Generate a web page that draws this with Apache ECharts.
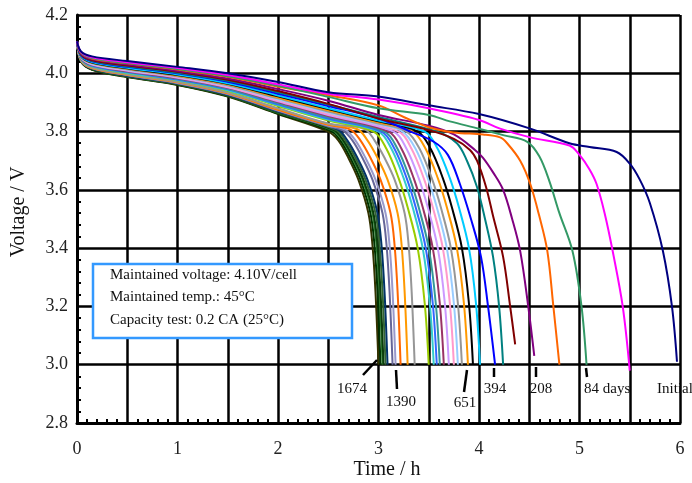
<!DOCTYPE html>
<html><head><meta charset="utf-8">
<script src="https://cdn.jsdelivr.net/npm/echarts@6/dist/echarts.min.js"></script>
<style>html,body{margin:0;padding:0;background:#fff}#c{width:692px;height:483px}</style>
</head><body><div id="c"></div>
<script>
// ---- data: discharge curves [time h, voltage V] ----
const curve01 = [[0,4.11],[0.04,4.040],[0.15,4.012],[0.5,3.987],[1,3.960],[1.5,3.920],[2,3.860],[2.5,3.800],[2.6,3.770],[2.7,3.710],[2.8,3.635],[2.9,3.520],[2.94,3.410],[2.97,3.250],[3.0,3.0]];
const curve02 = [[0,4.11],[0.04,4.041],[0.15,4.013],[0.5,3.988],[1,3.961],[1.5,3.922],[2,3.862],[2.52,3.803],[2.62,3.77],[2.72,3.71],[2.82,3.635],[2.92,3.52],[2.96,3.41],[2.99,3.25],[3.02,3.0]];
const curve03 = [[0,4.11],[0.04,4.041],[0.15,4.014],[0.5,3.989],[1,3.962],[1.5,3.923],[2,3.864],[2.54,3.805],[2.64,3.77],[2.74,3.71],[2.84,3.635],[2.94,3.52],[2.98,3.41],[3.01,3.25],[3.04,3.0]];
const curve04 = [[0,4.11],[0.04,4.042],[0.15,4.014],[0.5,3.990],[1,3.963],[1.5,3.924],[2,3.866],[2.55,3.806],[2.65,3.77],[2.75,3.71],[2.85,3.635],[2.95,3.52],[2.99,3.41],[3.02,3.25],[3.05,3.0]];
const curve05 = [[0,4.11],[0.04,4.042],[0.15,4.015],[0.5,3.990],[1,3.964],[1.5,3.925],[2,3.867],[2.57,3.807],[2.67,3.77],[2.77,3.71],[2.87,3.635],[2.97,3.52],[3.01,3.41],[3.04,3.25],[3.07,3.0]];
const curve06 = [[0,4.11],[0.04,4.043],[0.15,4.016],[0.5,3.991],[1,3.965],[1.5,3.926],[2,3.869],[2.59,3.808],[2.69,3.77],[2.79,3.71],[2.89,3.635],[2.99,3.52],[3.03,3.41],[3.06,3.25],[3.09,3.0]];
const curve07 = [[0,4.11],[0.04,4.044],[0.15,4.017],[0.5,3.993],[1,3.966],[1.5,3.928],[2,3.871],[2.5,3.818],[2.64,3.805],[2.74,3.77],[2.84,3.71],[2.94,3.635],[3.04,3.52],[3.08,3.41],[3.11,3.25],[3.14,3.0]];
const curve08 = [[0,4.11],[0.04,4.044],[0.15,4.018],[0.5,3.994],[1,3.967],[1.5,3.930],[2,3.873],[2.5,3.821],[2.67,3.806],[2.77,3.77],[2.87,3.71],[2.97,3.635],[3.07,3.52],[3.11,3.41],[3.14,3.25],[3.17,3.0]];
const curve09 = [[0,4.11],[0.04,4.045],[0.15,4.018],[0.5,3.995],[1,3.969],[1.5,3.931],[2,3.875],[2.5,3.823],[2.72,3.807],[2.82,3.77],[2.92,3.71],[3.02,3.635],[3.12,3.52],[3.16,3.41],[3.19,3.25],[3.22,3.0]];
const curve10 = [[0,4.11],[0.04,4.046],[0.15,4.019],[0.5,3.996],[1,3.970],[1.5,3.933],[2,3.878],[2.5,3.826],[2.79,3.808],[2.89,3.77],[2.99,3.71],[3.09,3.635],[3.19,3.52],[3.23,3.41],[3.26,3.25],[3.29,3.0]];
const curve11 = [[0,4.11],[0.04,4.046],[0.15,4.020],[0.5,3.997],[1,3.971],[1.5,3.934],[2,3.880],[2.5,3.828],[2.86,3.809],[2.96,3.77],[3.06,3.71],[3.16,3.635],[3.26,3.52],[3.30,3.41],[3.33,3.25],[3.36,3.0]];
const curve12 = [[0,4.11],[0.04,4.049],[0.15,4.024],[0.5,4.001],[1,3.976],[1.5,3.940],[2,3.888],[2.5,3.838],[2.95,3.80],[3.08,3.74],[3.20,3.64],[3.29,3.54],[3.39,3.40],[3.46,3.21],[3.50,3.0]];
const curve13 = [[0,4.11],[0.04,4.050],[0.15,4.025],[0.5,4.002],[1,3.977],[1.5,3.942],[2,3.891],[2.5,3.841],[3.00,3.80],[3.13,3.74],[3.25,3.64],[3.34,3.54],[3.44,3.40],[3.51,3.21],[3.55,3.0]];
const curve14 = [[0,4.11],[0.04,4.051],[0.15,4.026],[0.5,4.004],[1,3.979],[1.5,3.945],[2,3.894],[2.5,3.845],[3.03,3.80],[3.16,3.74],[3.28,3.64],[3.37,3.54],[3.47,3.40],[3.54,3.21],[3.58,3.0]];
const curve15 = [[0,4.11],[0.04,4.052],[0.15,4.028],[0.5,4.006],[1,3.981],[1.5,3.947],[2,3.897],[2.5,3.849],[3.06,3.80],[3.19,3.74],[3.31,3.64],[3.40,3.54],[3.50,3.40],[3.57,3.21],[3.61,3.0]];
const curve16 = [[0,4.11],[0.04,4.053],[0.15,4.029],[0.5,4.007],[1,3.983],[1.5,3.950],[2,3.901],[2.5,3.853],[3.10,3.80],[3.23,3.74],[3.35,3.64],[3.44,3.54],[3.54,3.40],[3.61,3.21],[3.65,3.0]];
const curve17 = [[0,4.11],[0.04,4.054],[0.15,4.030],[0.5,4.009],[1,3.985],[1.5,3.952],[2,3.904],[2.5,3.857],[3.15,3.80],[3.28,3.74],[3.40,3.64],[3.49,3.54],[3.59,3.40],[3.66,3.21],[3.70,3.0]];
const curve18 = [[0,4.11],[0.04,4.055],[0.15,4.032],[0.5,4.011],[1,3.987],[1.5,3.954],[2,3.907],[2.5,3.861],[3.20,3.80],[3.33,3.74],[3.45,3.64],[3.54,3.54],[3.64,3.40],[3.71,3.21],[3.75,3.0]];
const curve19 = [[0,4.11],[0.04,4.056],[0.15,4.033],[0.5,4.012],[1,3.989],[1.5,3.957],[2,3.911],[2.5,3.865],[3.0,3.825],[3.24,3.80],[3.37,3.74],[3.49,3.64],[3.58,3.54],[3.68,3.40],[3.75,3.21],[3.79,3.0]];
const curve20 = [[0,4.11],[0.04,4.057],[0.15,4.035],[0.5,4.014],[1,3.990],[1.5,3.959],[2,3.914],[2.5,3.869],[3.0,3.828],[3.28,3.80],[3.41,3.74],[3.53,3.64],[3.62,3.54],[3.72,3.40],[3.79,3.21],[3.83,3.0]];
const curve21 = [[0,4.11],[0.04,4.058],[0.15,4.036],[0.5,4.016],[1,3.992],[1.5,3.962],[2,3.917],[2.5,3.873],[3.0,3.832],[3.34,3.80],[3.47,3.74],[3.59,3.64],[3.68,3.54],[3.78,3.40],[3.85,3.21],[3.89,3.0]];
const curve22 = [[0,4.11],[0.04,4.059],[0.15,4.037],[0.5,4.017],[1,3.994],[1.5,3.964],[2,3.921],[2.5,3.877],[3.0,3.835],[3.39,3.80],[3.52,3.74],[3.64,3.64],[3.73,3.54],[3.83,3.40],[3.90,3.21],[3.94,3.0]];
const curve23 = [[0,4.11],[0.04,4.060],[0.15,4.039],[0.5,4.019],[1,3.996],[1.5,3.966],[2,3.924],[2.5,3.880],[3.0,3.838],[3.46,3.80],[3.59,3.74],[3.71,3.64],[3.80,3.54],[3.90,3.40],[3.97,3.21],[4.01,3.0]];
const curve24 = [[0,4.11],[0.04,4.062],[0.15,4.041],[0.5,4.022],[1,4.000],[1.5,3.971],[2,3.930],[2.5,3.888],[3.0,3.845],[3.32,3.80],[3.55,3.765],[3.69,3.72],[3.81,3.62],[3.92,3.50],[4.02,3.37],[4.09,3.20],[4.16,3.0]];
const curve25 = [[0,4.11],[0.04,4.064],[0.15,4.043],[0.5,4.024],[1,4.002],[1.5,3.974],[2,3.935],[2.5,3.893],[3.0,3.850],[3.58,3.80],[3.78,3.76],[3.88,3.70],[3.98,3.61],[4.06,3.50],[4.14,3.37],[4.20,3.20],[4.24,3.0]];
const curve26 = [[0,4.11],[0.04,4.065],[0.15,4.045],[0.5,4.027],[1,4.005],[1.5,3.978],[2,3.939],[2.5,3.895],[3.0,3.845],[3.5,3.805],[3.75,3.775],[3.91,3.737],[3.98,3.70],[4.07,3.61],[4.14,3.51],[4.24,3.37],[4.31,3.20],[4.36,3.07]];
const curve27 = [[0,4.11],[0.04,4.067],[0.15,4.048],[0.5,4.030],[1,4.008],[1.5,3.982],[2,3.946],[2.5,3.906],[3.0,3.857],[3.5,3.82],[3.75,3.79],[3.96,3.737],[4.04,3.71],[4.14,3.66],[4.24,3.60],[4.33,3.50],[4.41,3.39],[4.49,3.20],[4.55,3.03]];
const curve28 = [[0,4.11],[0.04,4.070],[0.15,4.051],[0.5,4.034],[1,4.013],[1.5,3.988],[2,3.954],[2.5,3.925],[3.0,3.89],[3.25,3.85],[3.5,3.815],[3.75,3.797],[4.04,3.79],[4.21,3.78],[4.28,3.76],[4.41,3.70],[4.51,3.62],[4.60,3.51],[4.68,3.39],[4.74,3.20],[4.80,3.0]];
const curve29 = [[0,4.11],[0.04,4.071],[0.15,4.052],[0.5,4.035],[1,4.015],[1.5,3.990],[2,3.957],[2.5,3.919],[3.0,3.88],[3.5,3.857],[3.71,3.835],[4.0,3.81],[4.25,3.787],[4.48,3.765],[4.6,3.715],[4.7,3.63],[4.8,3.52],[4.93,3.39],[5.02,3.20],[5.07,3.0]];
const curve30 = [[0,4.11],[0.04,4.073],[0.15,4.055],[0.5,4.038],[1,4.018],[1.5,3.994],[2,3.962],[2.5,3.93],[3.0,3.91],[3.5,3.88],[4.0,3.84],[4.21,3.81],[4.51,3.78],[4.9,3.752],[5.0,3.72],[5.1,3.67],[5.17,3.62],[5.25,3.52],[5.33,3.39],[5.43,3.20],[5.5,2.98]];
const curve31 = [[0,4.11],[0.04,4.075],[0.15,4.058],[0.5,4.042],[1,4.022],[1.5,4.000],[2,3.97],[2.5,3.935],[3.0,3.92],[3.5,3.89],[4.0,3.86],[4.51,3.81],[4.9,3.76],[5.1,3.747],[5.37,3.73],[5.5,3.69],[5.6,3.635],[5.7,3.555],[5.83,3.39],[5.92,3.20],[5.97,3.01]];

const curveColors = ['#333300','#003300','#2e7d32','#0b3d0b','#336633','#003366','#666699','#9999cc','#ff6600','#ff9900','#969696',
  '#99cc00','#33cccc','#3366ff','#339999','#993366','#cc99ff','#ff99cc','#99ccff','#969696','#ff9900','#000000','#00ccff',
  '#0000ff','#008080','#800000','#800080','#ff6600','#339966','#ff00ff','#000080'];

const xTickLabels = ['0','1','2','3','4','5','6'];
const yTickLabels = ['2.8','3.0','3.2','3.4','3.6','3.8','4.0','4.2'];
const storageLabels = ['1674','1390','651','394','208','84 days','Initial'];
const conditionLines = ['Maintained voltage: 4.10V/cell','Maintained temp.: 45°C','Capacity test: 0.2 CA (25°C)'];

const curves = [curve01,curve02,curve03,curve04,curve05,curve06,curve07,curve08,curve09,curve10,curve11,curve12,curve13,curve14,curve15,
  curve16,curve17,curve18,curve19,curve20,curve21,curve22,curve23,curve24,curve25,curve26,curve27,curve28,curve29,curve30,curve31];

const SERIF = '"Liberation Serif","DejaVu Serif",serif';
const chart = echarts.init(document.getElementById('c'), null, {renderer:'canvas'});

const series = curves.map((d, i) => ({
  type: 'line', data: d, showSymbol: false, smooth: 0.35,
  lineStyle: { width: 2, color: curveColors[i] }, itemStyle: { color: curveColors[i] },
  animation: false, silent: true, z: 3
}));

// annotation positions (pixels)
const labelPos = [[352,389,'center'],[401,402,'center'],[465,403,'center'],[495,389,'center'],[541,389,'center'],[584,389,'left'],[657,389,'left']];
const leaders = [[363,375,377,360],[396,370,397,389],[467,370,464,392],[494,368,494,377],[536,367,536,377],[586,368,587,377]];

const graphics = [];
graphics.push({ type:'rect', z:100, shape:{x:93,y:264,width:259,height:74}, style:{fill:'#fff', stroke:'#3399ff', lineWidth:2.5} });
conditionLines.forEach((t,i)=>graphics.push({ type:'text', z:101, x:110, y:275+i*22.5,
  style:{text:t, font:'15px '+SERIF, fill:'#111', align:'left', verticalAlign:'middle'} }));
storageLabels.forEach((t,i)=>graphics.push({ type:'text', z:101, x:labelPos[i][0], y:labelPos[i][1],
  style:{text:t, font:'15px '+SERIF, fill:'#111', align:labelPos[i][2], verticalAlign:'middle'} }));
leaders.forEach(l=>graphics.push({ type:'line', z:101, shape:{x1:l[0],y1:l[1],x2:l[2],y2:l[3]}, style:{stroke:'#000', lineWidth:2.5} }));
graphics.push({ type:'text', z:101, x:387, y:470, style:{text:'Time / h', font:'20px '+SERIF, fill:'#111', align:'center', verticalAlign:'middle'} });
graphics.push({ type:'text', z:101, x:19, y:212, rotation:Math.PI/2, style:{text:'Voltage / V', font:'20px '+SERIF, fill:'#111', align:'center', verticalAlign:'middle'} });

chart.setOption({
  backgroundColor: '#fff',
  animation: false,
  grid: { left: 77, right: 12, top: 15, bottom: 60, containLabel: false },
  xAxis: {
    type: 'value', min: 0, max: 6, interval: 0.5,
    axisLine: { show: true, onZero: false, lineStyle: { color: '#000', width: 3 } },
    axisTick: { show: false, inside: true },
    minorTick: { show: true, splitNumber: 5, length: 4, lineStyle: { color: '#000', width: 2 } },
    splitLine: { show: true, lineStyle: { color: '#000', width: 2.5 } },
    axisLabel: { margin: 17, fontFamily: SERIF, fontSize: 18, color: '#222',
      formatter: v => { const k = Math.round(v); return Math.abs(v - k) < 1e-6 ? xTickLabels[k] : ''; } }
  },
  yAxis: {
    type: 'value', min: 2.8, max: 4.2, interval: 0.2,
    axisLine: { show: true, onZero: false, lineStyle: { color: '#000', width: 3 } },
    axisTick: { show: false, inside: true },
    minorTick: { show: true, splitNumber: 5, length: 4, lineStyle: { color: '#000', width: 2 } },
    splitLine: { show: true, lineStyle: { color: '#000', width: 2.5 } },
    axisLabel: { margin: 9, fontFamily: SERIF, fontSize: 18, color: '#222',
      formatter: v => yTickLabels[Math.round((v - 2.8) / 0.2)] }
  },
  series: series,
  graphic: graphics
});
</script></body></html>
